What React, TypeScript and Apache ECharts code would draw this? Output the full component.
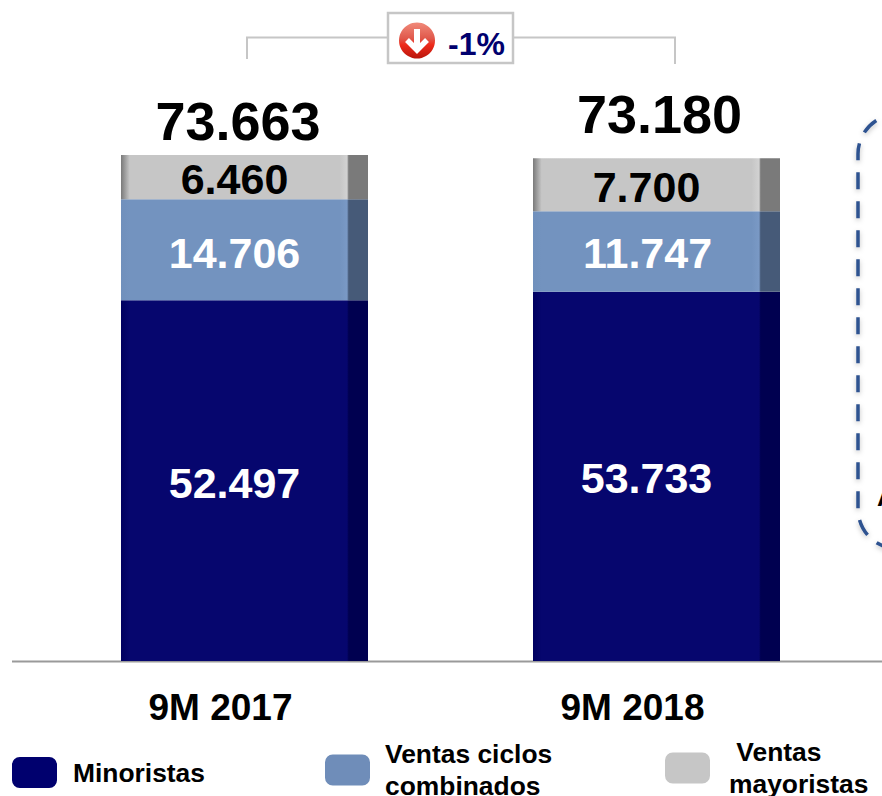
import React, { useEffect, useRef } from "react";
import * as echarts from "echarts";

const categories = ["9M 2017", "9M 2018"];
const minoristas = [52497, 53733];
const ciclos = [14706, 11747];
const mayoristas = [6460, 7700];
const totals = [73663, 73180];
const seriesNames = ["Minoristas", "Ventas ciclos\ncombinados", " Ventas\nmayoristas"];
const changeLabel = "-1%";
const calloutLetter = "A";

const FONT = '"Liberation Sans", Arial, sans-serif';
const fmt = (v: number) => String(v).replace(/\B(?=(\d{3})+$)/g, ".");

const shade = (edge: string, base: string, light: string, strip: string) =>
  new echarts.graphic.LinearGradient(0, 0, 1, 0, [
    { offset: 0, color: edge },
    { offset: 0.035, color: base },
    { offset: 0.885, color: base },
    { offset: 0.915, color: light },
    { offset: 0.922, color: strip },
    { offset: 1, color: strip },
  ]);

const barSeries = (
  name: string,
  values: number[],
  base: string,
  fill: any,
  textColor: string,
  offsets: number[][]
) => ({
  name,
  type: "bar",
  stack: "total",
  barWidth: 247,
  itemStyle: { color: base },
  data: values.map((v, i) => ({
    value: v,
    itemStyle: { color: fill },
    label: { offset: offsets[i] },
  })),
  label: {
    show: true,
    position: "inside",
    formatter: (p: any) => fmt(p.value),
    color: textColor,
    fontFamily: FONT,
    fontWeight: "bold",
    fontSize: 43,
  },
});

const legendAt = (name: string, left: number, top: number, gap: number, nudge: number) => ({
  data: [name],
  left,
  top,
  padding: 0,
  orient: "horizontal",
  itemWidth: 45,
  itemHeight: 31,
  itemGap: 0,
  icon: "roundRect",
  selectedMode: false,
  textStyle: {
    color: "#000",
    fontFamily: FONT,
    fontWeight: "bold",
    fontSize: 26.4,
    lineHeight: 32,
    padding: [nudge, 0, 0, gap],
  },
});

export default function App() {
  const ref = useRef<HTMLDivElement>(null);
  useEffect(() => {
    const chart = echarts.init(ref.current!, undefined, { renderer: "svg" });
    chart.setOption({
      animation: false,
      backgroundColor: "#fff",
      grid: { left: 38.5, right: 19.5, top: 0, height: 661 },
      legend: [
        legendAt(seriesNames[0], 12, 755, 11, 3),
        legendAt(seriesNames[1], 325, 738, 10, 0),
        legendAt(seriesNames[2], 665, 736, 14, 0),
      ],
      xAxis: {
        type: "category",
        data: categories,
        axisLine: { show: false },
        axisTick: { show: false },
        axisLabel: {
          color: "#000",
          fontFamily: FONT,
          fontWeight: "bold",
          fontSize: 37,
          margin: 28,
          padding: [0, 48, 0, 0],
        },
      },
      yAxis: { type: "value", min: 0, max: 96215, show: false },
      series: [
        barSeries(seriesNames[0], minoristas, "#00006e",
          shade("#000060", "#06066e", "#06066e", "#000050"), "#fff", [[-10, 2], [-10, 2]]),
        barSeries(seriesNames[1], ciclos, "#6f8db9",
          shade("#7090bc", "#7393bf", "#7a99c5", "#465a78"), "#fff", [[-10, 3], [-9, 1]]),
        barSeries(seriesNames[2], mayoristas, "#c6c6c6",
          shade("#7a7a7a", "#c6c6c6", "#d2d2d2", "#7a7a7a"), "#000", [[-10, 2], [-10, 2]]),
        {
          name: "Total",
          type: "line",
          data: totals.map((v, i) => ({
            value: v,
            label: { offset: i === 0 ? [-6.5, -1] : [3, -12] },
          })),
          symbol: "circle",
          symbolSize: 1,
          itemStyle: { color: "rgba(0,0,0,0)" },
          lineStyle: { opacity: 0 },
          label: {
            show: true,
            position: "top",
            distance: 5,
            formatter: (p: any) => fmt(p.value),
            color: "#000",
            fontFamily: FONT,
            fontWeight: "bold",
            fontSize: 54,
          },
        },
      ],
      graphic: [
        { type: "line", shape: { x1: 12, y1: 661.5, x2: 882, y2: 661.5 }, style: { stroke: "#9a9a9a", lineWidth: 2 }, z: 1 },
        { type: "polyline", shape: { points: [[247, 59], [247, 37.5], [388, 37.5]] }, style: { stroke: "#c6c6c6", lineWidth: 2, fill: "none" } },
        { type: "polyline", shape: { points: [[513, 37.5], [675, 37.5], [675, 64]] }, style: { stroke: "#c6c6c6", lineWidth: 2, fill: "none" } },
        { type: "rect", shape: { x: 388, y: 13, width: 125, height: 50 }, style: { stroke: "#c6c6c6", lineWidth: 2.5, fill: "#fff" } },
        {
          type: "circle",
          shape: { cx: 417, cy: 40.5, r: 18 },
          style: {
            fill: new echarts.graphic.LinearGradient(0, 0, 0, 1, [
              { offset: 0, color: "#f08a7a" },
              { offset: 0.45, color: "#e0574a" },
              { offset: 0.62, color: "#ee2a1a" },
              { offset: 1, color: "#b8160c" },
            ]),
          },
        },
        { type: "polyline", shape: { points: [[417, 29], [417, 50]] }, style: { stroke: "#fff", lineWidth: 6, fill: "none" } },
        { type: "polyline", shape: { points: [[407, 40], [417, 50], [427, 40]] }, style: { stroke: "#fff", lineWidth: 5.5, fill: "none" } },
        {
          type: "text",
          x: 448,
          y: 44,
          style: { text: changeLabel, fill: "#00006e", font: `bold 32px ${FONT}`, textVerticalAlign: "middle" },
        },
        {
          type: "rect",
          shape: { x: 858, y: 114, width: 200, height: 435, r: 40 },
          style: {
            fill: "none",
            stroke: "#2f5290",
            lineWidth: 3.5,
            lineDash: [17, 12],
            lineDashOffset: 27.8,
            shadowColor: "rgba(0,0,0,0.25)",
            shadowBlur: 5,
            shadowOffsetY: 2,
          },
        },
        {
          type: "text",
          x: 877,
          y: 497,
          style: { text: calloutLetter, fill: "#000", font: `bold 26px ${FONT}`, textVerticalAlign: "middle" },
        },
      ],
    });
    return () => chart.dispose();
  }, []);
  return <div ref={ref} style={{ position: "fixed", left: 0, top: 0, width: 882, height: 796 }} />;
}
